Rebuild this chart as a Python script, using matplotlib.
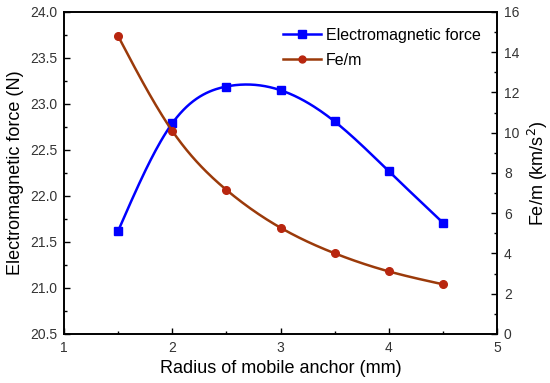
import numpy as np
import matplotlib
matplotlib.use("Agg")
import matplotlib.pyplot as plt
from matplotlib.ticker import MultipleLocator

plt.rcParams['font.family'] = ['Liberation Sans', 'DejaVu Sans']

radius = [1.5, 2.0, 2.5, 3.0, 3.5, 4.0, 4.5]
em_force = [21.62, 22.79, 23.19, 23.15, 22.81, 22.27, 21.71]
fe_m = [14.8, 10.09, 7.16, 5.28, 4.01, 3.11, 2.47]


def natural_spline(x, y, n=200):
    x = np.asarray(x, float); y = np.asarray(y, float)
    k = len(x)
    h = np.diff(x)
    A = np.zeros((k, k)); b = np.zeros(k)
    A[0, 0] = A[-1, -1] = 1
    for i in range(1, k - 1):
        A[i, i - 1] = h[i - 1]; A[i, i] = 2 * (h[i - 1] + h[i]); A[i, i + 1] = h[i]
        b[i] = 3 * ((y[i + 1] - y[i]) / h[i] - (y[i] - y[i - 1]) / h[i - 1])
    c = np.linalg.solve(A, b)
    xs = np.linspace(x[0], x[-1], n)
    ys = np.empty_like(xs)
    for j, xv in enumerate(xs):
        i = min(np.searchsorted(x, xv, side='right') - 1, k - 2)
        d = (c[i + 1] - c[i]) / (3 * h[i])
        bb = (y[i + 1] - y[i]) / h[i] - h[i] * (2 * c[i] + c[i + 1]) / 3
        t = xv - x[i]
        ys[j] = y[i] + bb * t + c[i] * t ** 2 + d * t ** 3
    return xs, ys


fig = plt.figure(figsize=(5.5, 3.83), dpi=100)
ax = fig.add_axes([0.1164, 0.128, 0.7872, 0.8407])
ax2 = ax.twinx()

blue = '#0000ff'
brown = '#9b3a0a'
red = '#b8260f'
tickc = '#333333'

xs, ys = natural_spline(radius, em_force)
ax.plot(xs, ys, color=blue, lw=1.8)
ax.plot(radius, em_force, 's', color=blue, ms=5.5)
l1, = ax.plot([], [], '-s', color=blue, lw=1.8, ms=5.5, label='Electromagnetic force')

xs2, ys2 = natural_spline(radius, fe_m)
ax2.plot(xs2, ys2, color=brown, lw=1.8)
ax2.plot(radius, fe_m, 'o', color=red, ms=5.5)
l2, = ax2.plot([], [], '-o', color=brown, mfc=red, mec=red, lw=1.8, ms=5, label='Fe/m')

ax.set_xlim(1, 5)
ax.set_ylim(20.5, 24.0)
ax2.set_ylim(0, 16)

ax.xaxis.set_major_locator(MultipleLocator(1))
ax.xaxis.set_minor_locator(MultipleLocator(0.5))
ax.yaxis.set_minor_locator(MultipleLocator(0.25))
ax2.yaxis.set_major_locator(MultipleLocator(2))
ax2.yaxis.set_minor_locator(MultipleLocator(1))

ax.set_yticks(np.arange(20.5, 24.01, 0.5))
ax.set_yticklabels([f'{v:.1f}' for v in np.arange(20.5, 24.01, 0.5)])

ax.tick_params(axis='both', which='both', direction='in', labelsize=10, top=False,
               labelcolor=tickc, pad=5)
ax.tick_params(which='major', length=4, width=1)
ax.tick_params(which='minor', length=2.5, width=1)
ax2.tick_params(axis='y', which='both', direction='in', labelsize=10, labelcolor=tickc, pad=5)
ax2.tick_params(which='major', length=4, width=1)
ax2.tick_params(which='minor', length=2.5, width=1)

for a in (ax, ax2):
    for s in a.spines.values():
        s.set_linewidth(1.2)

ax.set_xlabel('Radius of mobile anchor (mm)', fontsize=13, labelpad=4)
ax.set_ylabel('Electromagnetic force (N)', fontsize=13, labelpad=4)
ax2.set_ylabel('Fe/m (km/s$^2$)', fontsize=13, labelpad=5)

ax.legend(handles=[l1, l2], loc='upper right', frameon=False, fontsize=11.5,
          handlelength=2.4, handletextpad=0.3, labelspacing=0.6,
          borderaxespad=0.2, bbox_to_anchor=(0.985, 0.98))

fig.savefig('out.png', dpi=100)
